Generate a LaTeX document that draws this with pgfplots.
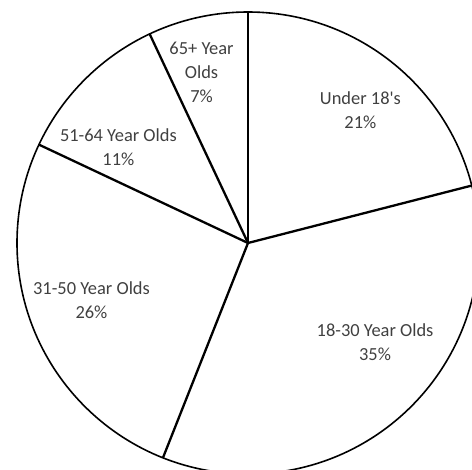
\documentclass[border=0pt]{standalone}
\usepackage{fontspec}
\setmainfont{Carlito}
\usepackage{pgfplots}
\usepackage{pgfplotstable}
\pgfplotsset{compat=1.18}
\usepgfplotslibrary{polar}
\definecolor{labelgray}{RGB}{64,64,64}

% share of each age group, clockwise from 12 o'clock
\pgfplotstableread{
pct
21
35
26
11
7
}\piedata
\pgfplotstablecreatecol[create col/expr accum={\pgfmathaccuma+\thisrow{pct}}{0}]{cum}{\piedata}

\begin{document}
\begin{tikzpicture}[x=1bp,y=1bp,
  lbl/.style={font=\fontsize{18.5}{24}\selectfont, text=labelgray, align=center}]
\begin{polaraxis}[
  at={(0,0)}, anchor=center,
  scale only axis, width=462bp, height=462bp,
  xmin=0, xmax=360, ymin=0, ymax=1,
  xtick=\empty, ytick=\empty,
  separate axis lines,
  x axis line style={line width=1.6bp, black},
  y axis line style={draw=none},
  clip=false,
]
% slice borders, one radius per cumulative share
\pgfplotsinvokeforeach{0,...,4}{
  \pgfplotstablegetelem{#1}{cum}\of\piedata
  \pgfmathsetmacro\ang{90-3.6*\pgfplotsretval}
  \edef\borderline{\noexpand\addplot[black, line width=2.3bp] coordinates {(\ang,0) (\ang,1)};}
  \borderline
}

\node[lbl] at (axis cs:49.8,0.754) {Under 18\textquotesingle s\\21\%};
\node[lbl] at (axis cs:-37.9,0.697) {18-30 Year Olds\\35\%};
\node[lbl] at (axis cs:200.0,0.721) {31-50 Year Olds\\26\%};
\node[lbl] at (axis cs:143.6,0.697) {51-64 Year Olds\\11\%};
\node[lbl] at (axis cs:105.2,0.767) {65+ Year\\Olds\\7\%};
\end{polaraxis}
\pgfresetboundingbox
\useasboundingbox (-248,-227) rectangle (224,243);
\end{tikzpicture}
\end{document}
